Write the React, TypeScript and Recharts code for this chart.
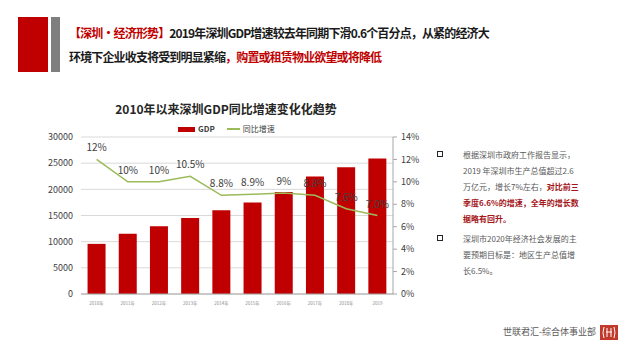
import React from 'react';
import { ComposedChart, Bar, Line, XAxis, YAxis, CartesianGrid, LabelList } from 'recharts';

const years = ['2010年', '2011年', '2012年', '2013年', '2014年', '2015年', '2016年', '2017年', '2018年', '2019'];
const gdp = [9581, 11502, 12950, 14500, 16002, 17503, 19493, 22438, 24222, 25900];
const growth = [12, 10, 10, 10.5, 8.8, 8.9, 9, 8.8, 7.6, 7.0];
const growthLabels = ['12%', '10%', '10%', '10.5%', '8.8%', '8.9%', '9%', '8.8%', '7.6%', '7.0%'];
const leftTicks = [0, 5000, 10000, 15000, 20000, 25000, 30000];
const rightTicks = [0, 2, 4, 6, 8, 10, 12, 14];

const chartData = years.map((year, i) => ({
  year,
  gdp: gdp[i],
  growth: growth[i],
  label: growthLabels[i],
}));

const RED = '#C00000';
const LINE_GREEN = '#9BBB59';
const FONT = '"Noto Sans CJK SC", "Noto Sans", sans-serif';

const TextRed: React.FC<{ children: React.ReactNode }> = ({ children }) => (
  <span style={{ color: '#A5161B', fontWeight: 700 }}>{children}</span>
);

const Bullet: React.FC<{ top: number }> = ({ top }) => (
  <div
    style={{
      position: 'absolute',
      left: 437,
      top,
      width: 4,
      height: 4,
      border: '1.5px solid #262626',
    }}
  />
);

const App: React.FC = () => {
  const sideLine = (top: number, content: React.ReactNode) => (
    <div style={{ position: 'absolute', left: 463, top, fontSize: 8, lineHeight: '16px', color: '#595959', whiteSpace: 'nowrap' }}>
      {content}
    </div>
  );

  return (
    <div style={{ position: 'fixed', left: 0, top: 0, width: 631, height: 362, background: '#fff', fontFamily: FONT, overflow: 'hidden' }}>
      {/* header */}
      <div style={{ position: 'absolute', left: 18, top: 17, width: 30, height: 55, background: RED }} />
      <div style={{ position: 'absolute', left: 51, top: 17, width: 9, height: 55, background: '#7F7F7F' }} />
      <div style={{ position: 'absolute', left: 69, top: 21, fontSize: 12, fontWeight: 700, lineHeight: '24px', letterSpacing: -0.85, color: '#1a1a1a', whiteSpace: 'nowrap' }}>
        <div>
          <span style={{ color: RED }}>【深圳·经济形势】</span>2019年深圳GDP增速较去年同期下滑0.6个百分点，从紧的经济大
        </div>
        <div>
          环境下企业收支将受到明显紧缩<span style={{ color: RED }}>，购置或租赁物业欲望或将降低</span>
        </div>
      </div>

      {/* chart title + legend */}
      <div style={{ position: 'absolute', left: 80, width: 292, top: 101, textAlign: 'center', fontSize: 12, fontWeight: 700, color: '#262626', lineHeight: '16px' }}>
        2010年以来深圳GDP同比增速变化化趋势
      </div>
      <div style={{ position: 'absolute', left: 178, top: 123, display: 'flex', alignItems: 'center', fontSize: 8, color: '#404040', lineHeight: '12px' }}>
        <span style={{ display: 'inline-block', width: 17, height: 5, background: RED, marginRight: 3 }} />
        <span style={{ fontWeight: 700 }}>GDP</span>
        <span style={{ display: 'inline-block', width: 13, height: 1.5, background: LINE_GREEN, marginLeft: 12, marginRight: 3 }} />
        <span>同比增速</span>
      </div>

      <div style={{ position: 'absolute', left: 0, top: 120 }}>
        <ComposedChart
          width={430}
          height={194}
          data={chartData}
          margin={{ top: 17, right: 7, bottom: 0, left: 21 }}
          barCategoryGap="21%"
        >
          <CartesianGrid yAxisId="left" vertical={false} stroke="#D9D9D9" />
          <XAxis
            dataKey="year"
            tick={{ fontSize: 4.5, fill: '#8c8c8c' }}
            tickLine={false}
            axisLine={{ stroke: '#A6A6A6' }}
            height={20}
            interval={0}
          />
          <YAxis
            yAxisId="left"
            domain={[0, 30000]}
            ticks={leftTicks}
            width={60}
            axisLine={false}
            tickLine={false}
            tick={{ fontSize: 9, fill: '#404040' }}
          />
          <YAxis
            yAxisId="right"
            orientation="right"
            domain={[0, 14]}
            ticks={rightTicks}
            width={30}
            axisLine={{ stroke: '#A6A6A6' }}
            tickLine={{ stroke: '#A6A6A6' }}
            tickSize={4}
            tickMargin={4}
            tick={{ fontSize: 9, fill: '#404040' }}
            tickFormatter={(v: number) => `${v}%`}
          />
          <Bar yAxisId="left" dataKey="gdp" fill={RED} isAnimationActive={false} />
          <Line
            yAxisId="right"
            dataKey="growth"
            type="linear"
            stroke={LINE_GREEN}
            strokeWidth={1.5}
            dot={false}
            isAnimationActive={false}
          >
            <LabelList dataKey="label" position="top" offset={8} style={{ fontSize: 10, fill: '#404040' }} />
          </Line>
        </ComposedChart>
      </div>

      {/* side notes */}
      <Bullet top={151} />
      {sideLine(147, '根据深圳市政府工作报告显示，')}
      {sideLine(163, '2019 年深圳市生产总值超过2.6')}
      {sideLine(179, <>万亿元，增长7%左右，<TextRed>对比前三</TextRed></>)}
      {sideLine(195, <TextRed>季度6.6%的增速，全年的增长数</TextRed>)}
      {sideLine(211, <TextRed>据略有回升。</TextRed>)}
      <Bullet top={235} />
      {sideLine(231, '深圳市2020年经济社会发展的主')}
      {sideLine(247, '要预期目标是：地区生产总值增')}
      {sideLine(263, '长6.5%。')}

      {/* footer */}
      <div style={{ position: 'absolute', left: 503, top: 325, fontSize: 9, color: '#595959', lineHeight: '14px', whiteSpace: 'nowrap' }}>
        世联君汇-综合体事业部
      </div>
      <svg style={{ position: 'absolute', left: 600, top: 325 }} width={18} height={15}>
        <rect x={0} y={0} width={18} height={15} fill="#C0392B" />
        <path d="M4 2 Q2 7.5 4 13 M14 2 Q16 7.5 14 13 M7 3 V12 M11 3 V12 M6 7 H12" stroke="#fff" strokeWidth={1} fill="none" />
      </svg>
    </div>
  );
};

export default App;
